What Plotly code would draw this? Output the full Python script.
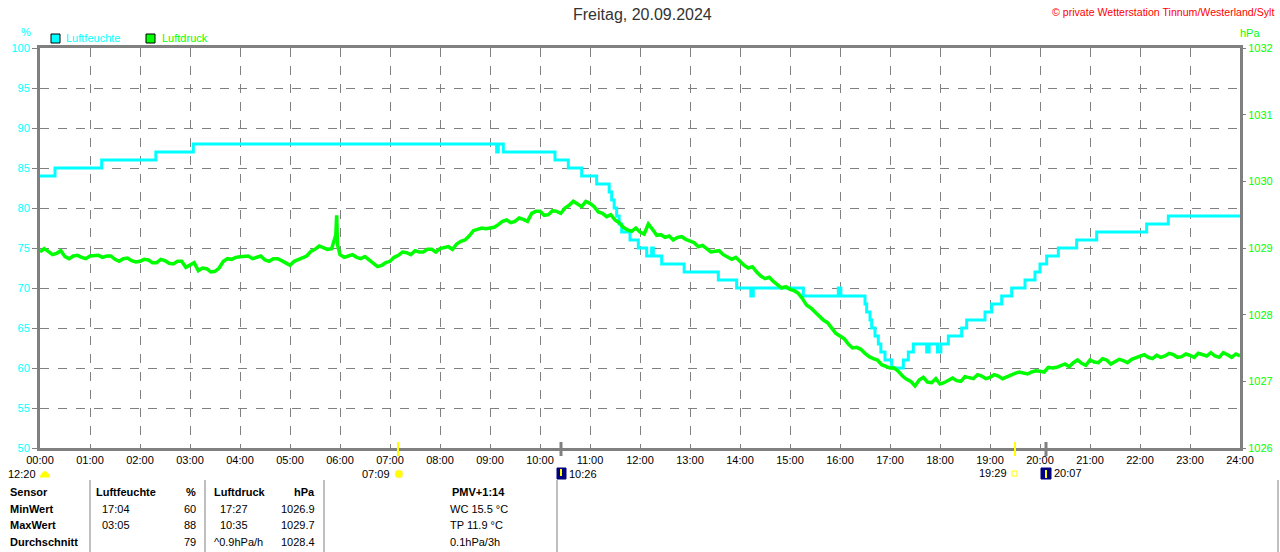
import plotly.graph_objects as go

# Luftfeuchte (%), step changes: minute of day -> value
hum_minutes = [0, 18, 74, 139, 184, 548, 550, 556, 618, 634, 650, 668, 683, 686,
               689, 692, 695, 698, 708, 718, 728, 734, 736, 746, 773, 814, 836,
               853, 856, 916, 958, 961, 990, 992, 996, 998, 1002, 1006, 1009,
               1014, 1022, 1036, 1042, 1048, 1064, 1067, 1077, 1081, 1090, 1106,
               1112, 1134, 1142, 1154, 1166, 1182, 1194, 1200, 1208, 1222, 1244,
               1268, 1328, 1354, 1440]
hum_values = [84, 85, 86, 87, 88, 87, 88, 87, 86, 85, 84, 83, 82, 81,
              80, 79, 78, 77, 76, 75, 74, 75, 74, 73, 72, 71, 70,
              69, 70, 69, 70, 69, 68, 67, 66, 65, 64, 63, 62,
              61, 60, 61, 62, 63, 62, 63, 62, 63, 64, 65,
              66, 67, 68, 69, 70, 71, 72, 73, 74, 75, 76,
              77, 78, 79, 79]

# Luftdruck (hPa), read every 10 minutes from 00:00 to 24:00
pres_minutes = list(range(0, 1441, 10))
pres_values = [
    1028.94, 1028.95, 1028.92, 1028.87, 1028.88, 1028.86, 1028.88, 1028.89,
    1028.88, 1028.83, 1028.84, 1028.81, 1028.80, 1028.82, 1028.78, 1028.81,
    1028.76, 1028.80, 1028.74, 1028.66, 1028.69, 1028.65, 1028.80, 1028.83,
    1028.87, 1028.88, 1028.86, 1028.82, 1028.84, 1028.81, 1028.74, 1028.83,
    1028.88, 1028.98, 1029.01, 1028.99, 1028.90, 1028.88, 1028.86, 1028.87,
    1028.76, 1028.74, 1028.80, 1028.89, 1028.93, 1028.96, 1028.94, 1028.98,
    1028.99, 1029.02, 1029.06, 1029.12, 1029.26, 1029.30, 1029.30, 1029.35,
    1029.42, 1029.40, 1029.43, 1029.52, 1029.55, 1029.50, 1029.55, 1029.60,
    1029.70, 1029.62, 1029.67, 1029.54, 1029.47, 1029.42, 1029.31, 1029.25,
    1029.24, 1029.36, 1029.19, 1029.16, 1029.12, 1029.17, 1029.11, 1029.02,
    1028.99, 1028.95, 1028.90, 1028.83, 1028.80, 1028.70, 1028.64, 1028.54,
    1028.50, 1028.40, 1028.38, 1028.32, 1028.14, 1028.04, 1027.92, 1027.80,
    1027.68, 1027.56, 1027.51, 1027.42, 1027.34, 1027.25, 1027.20, 1027.15,
    1027.03, 1026.93, 1027.06, 1026.98, 1026.96, 1027.02, 1027.01, 1027.07,
    1027.04, 1027.08, 1027.06, 1027.08, 1027.07, 1027.12, 1027.13, 1027.14,
    1027.15, 1027.21, 1027.21, 1027.26, 1027.28, 1027.27, 1027.32, 1027.28,
    1027.32, 1027.30, 1027.31, 1027.33, 1027.37, 1027.36, 1027.39, 1027.38,
    1027.40, 1027.37, 1027.39, 1027.42, 1027.38, 1027.38, 1027.43, 1027.36,
    1027.38,
]
# readings in between (00:05, 00:15, ... 23:55) - the sensor jitters a lot
mid_minutes = list(range(5, 1440, 10))
mid_values = [
    1028.99, 1028.90, 1028.96, 1028.84, 1028.89, 1028.84, 1028.88, 1028.86,
    1028.88, 1028.80, 1028.85, 1028.79, 1028.83, 1028.78, 1028.83, 1028.77,
    1028.80, 1028.71, 1028.78, 1028.70, 1028.64, 1028.70, 1028.84, 1028.86,
    1028.88, 1028.84, 1028.88, 1028.80, 1028.84, 1028.78, 1028.80, 1028.86,
    1028.95, 1029.03, 1028.98, 1029.20, 1028.86, 1028.90, 1028.84, 1028.82,
    1028.72, 1028.78, 1028.86, 1028.94, 1028.90, 1028.94, 1028.98, 1028.94,
    1029.00, 1028.98, 1029.10, 1029.18, 1029.28, 1029.29, 1029.31, 1029.40,
    1029.38, 1029.45, 1029.40, 1029.55, 1029.49, 1029.56, 1029.52, 1029.64,
    1029.66, 1029.70, 1029.62, 1029.52, 1029.50, 1029.38, 1029.27, 1029.30,
    1029.21, 1029.28, 1029.20, 1029.18, 1029.16, 1029.13, 1029.08, 1029.04,
    1028.94, 1028.96, 1028.86, 1028.86, 1028.74, 1028.72, 1028.58, 1028.56,
    1028.45, 1028.42, 1028.36, 1028.24, 1028.10, 1027.98, 1027.88, 1027.72,
    1027.64, 1027.50, 1027.48, 1027.37, 1027.32, 1027.22, 1027.20, 1027.08,
    1027.00, 1027.02, 1026.99, 1027.04, 1026.98, 1027.05, 1027.00, 1027.05,
    1027.10, 1027.04, 1027.10, 1027.04, 1027.09, 1027.14, 1027.11, 1027.16,
    1027.14, 1027.20, 1027.24, 1027.22, 1027.32, 1027.24, 1027.29, 1027.34,
    1027.26, 1027.33, 1027.28, 1027.35, 1027.40, 1027.34, 1027.36, 1027.42,
    1027.36, 1027.41, 1027.36, 1027.40, 1027.43, 1027.36, 1027.40, 1027.41,
]
# short spike just before 06:00
spike_minutes = [356, 357]
spike_values = [1029.49, 1029.05]

hour_labels = ['%02d:00' % h for h in range(25)]

CYAN = '#00FFFF'
GREEN = '#00FF00'
GRAY = '#808080'
FONT = 'Liberation Sans, Arial, sans-serif'


def px(x):
    # pixel column -> paper x
    return (x - 40) / 1200


def py(y):
    # pixel row -> paper y
    return (448 - y) / 400


pres = sorted(zip(pres_minutes + mid_minutes + spike_minutes,
                  pres_values + mid_values + spike_values))

fig = go.Figure()
fig.add_trace(go.Scatter(
    x=[p[0] for p in pres], y=[p[1] for p in pres], yaxis='y2',
    mode='lines', line=dict(color=GREEN, width=3.5), name='Luftdruck',
))
fig.add_trace(go.Scatter(
    x=hum_minutes, y=hum_values, mode='lines',
    line=dict(color=CYAN, width=3, shape='hv'), name='Luftfeuchte',
))

fig.update_layout(
    width=1280, height=552, autosize=False,
    margin=dict(l=40, r=40, t=48, b=104),
    paper_bgcolor='white', plot_bgcolor='white',
    showlegend=False,
    font=dict(family=FONT, size=11, color='black'),
    xaxis=dict(
        range=[0, 1440], tickmode='array',
        tickvals=list(range(0, 1441, 60)), ticktext=hour_labels,
        showgrid=True, gridcolor=GRAY, griddash='dash', gridwidth=1,
        showline=True, linecolor=GRAY, linewidth=3, mirror=True,
        ticks='', tickfont=dict(size=11, color='black'), zeroline=False,
        automargin=False,
    ),
    yaxis=dict(
        range=[50, 100], dtick=5, showgrid=True, gridcolor=GRAY,
        griddash='dash', gridwidth=1, showline=True, linecolor=GRAY,
        linewidth=3, mirror=True, ticks='outside', ticklen=5,
        tickcolor=GRAY, tickfont=dict(size=11, color=CYAN), zeroline=False,
        automargin=False,
    ),
    yaxis2=dict(
        range=[1026, 1032], dtick=1, overlaying='y', side='right',
        showgrid=False, ticks='outside', ticklen=5, tickcolor=GRAY,
        tickfont=dict(size=11, color=GREEN), zeroline=False,
        automargin=False,
    ),
)

ann = []
shapes = []


def text(x, y, s, anchor='left', color='black', size=11, bold=False):
    if bold:
        s = '<b>%s</b>' % s
    ann.append(dict(x=px(x), y=py(y), xref='paper', yref='paper', text=s,
                    showarrow=False, xanchor=anchor, yanchor='middle',
                    font=dict(family=FONT, size=size, color=color)))


def rect(x0, y0, x1, y1, fill, line='black', width=1):
    shapes.append(dict(type='rect', xref='paper', yref='paper',
                       x0=px(x0), x1=px(x1), y0=py(y0), y1=py(y1),
                       fillcolor=fill, line=dict(color=line, width=width)))


def vline(x, y0, y1, color, width=1):
    shapes.append(dict(type='line', xref='paper', yref='paper',
                       x0=px(x), x1=px(x), y0=py(y0), y1=py(y1),
                       line=dict(color=color, width=width)))


# header
text(642, 15, 'Freitag, 20.09.2024', anchor='center', color='#333333', size=16)
text(1276, 12, '© private Wetterstation Tinnum/Westerland/Sylt',
     anchor='right', color='red', size=10.6)
text(26, 32, '%', anchor='center', color=CYAN)
text(1250, 33, 'hPa', anchor='center', color=GREEN)

# legend
rect(51, 34, 60, 43, CYAN)
text(64, 38, 'Luftfeuchte', color=CYAN)
rect(146, 34, 155, 43, GREEN)
text(160, 38, 'Luftdruck', color=GREEN)

# sun / moon events below the time axis
vline(398, 442, 456, '#FFFF00', 2)
vline(1015, 442, 456, '#FFFF00', 2)
vline(561, 442, 456, GRAY, 3)
vline(1046, 442, 456, GRAY, 3)

text(38, 474, '12:20', anchor='right')
shapes.append(dict(type='path', xref='paper', yref='paper',
                   path='M %f %f Q %f %f %f %f Z' % (
                       px(40), py(477), px(45), py(466), px(50), py(477)),
                   fillcolor='#FFFF00', line=dict(color='#FFFF00', width=1)))
text(392, 474, '07:09', anchor='right')
shapes.append(dict(type='circle', xref='paper', yref='paper',
                   x0=px(395), x1=px(403), y0=py(470), y1=py(478),
                   fillcolor='#FFFF00', line=dict(color='#FFEE88', width=1)))
rect(557, 468, 566, 479, '#000080', line='#000080')
vline(561, 469, 476, '#FFFF00', 2)
text(567, 474, '10:26')
text(1009, 473, '19:29', anchor='right')
rect(1012, 471, 1017, 476, 'white', line='#FFFF00')
rect(1041, 468, 1051, 479, '#000080', line='#000080')
vline(1046, 470, 478, '#FFFF00', 2)
text(1052, 473, '20:07')

# table
for x in (90, 205, 324, 557, 1278):
    vline(x, 480, 552, GRAY, 1)

rows = [492, 509, 525, 542]
text(8, rows[0], 'Sensor', bold=True)
text(8, rows[1], 'MinWert', bold=True)
text(8, rows[2], 'MaxWert', bold=True)
text(8, rows[3], 'Durchschnitt', bold=True)

text(94, rows[0], 'Luftfeuchte', bold=True)
text(198, rows[0], '%', anchor='right', bold=True)
text(100, rows[1], '17:04')
text(198, rows[1], '60', anchor='right')
text(100, rows[2], '03:05')
text(198, rows[2], '88', anchor='right')
text(198, rows[3], '79', anchor='right')

text(212, rows[0], 'Luftdruck', bold=True)
text(317, rows[0], 'hPa', anchor='right', bold=True)
text(218, rows[1], '17:27')
text(317, rows[1], '1026.9', anchor='right')
text(218, rows[2], '10:35')
text(317, rows[2], '1029.7', anchor='right')
text(212, rows[3], '^0.9hPa/h')
text(317, rows[3], '1028.4', anchor='right')

text(478, rows[0], 'PMV+1:14', anchor='center', bold=True)
text(448, rows[1], 'WC 15.5 °C')
text(448, rows[2], 'TP 11.9 °C')
text(448, rows[3], '0.1hPa/3h')

fig.update_layout(annotations=ann, shapes=shapes)

# the page's default 8px body margin would push the chart off the window
fig.write_html('out.html', config={'displayModeBar': False},
               post_script="document.body.style.margin='0px';")
